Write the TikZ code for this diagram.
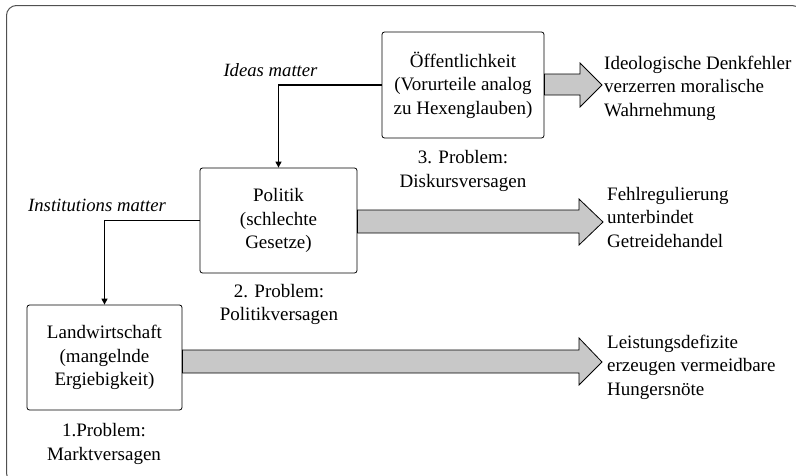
\documentclass[tikz,border=0pt]{standalone}
\usepackage{fontspec}
\setmainfont{Liberation Serif}
\usetikzlibrary{arrows.meta}
\definecolor{arrowgray}{RGB}{200,200,200}
\definecolor{framegray}{RGB}{80,80,80}
\begin{document}
\begin{tikzpicture}[x=1pt,y=-1pt,
  txt/.style={font=\fontsize{19}{23.5}\selectfont, inner sep=0pt, align=center},
  box/.style={txt, draw, rounded corners=2.5pt, line width=0.8pt},
  rtxt/.style={txt, anchor=west, align=left},
  itxt/.style={font=\fontsize{18.7}{22}\selectfont\itshape, inner sep=0pt},
  conn/.style={line width=1.3pt, -{Triangle[length=6pt,width=6pt]}},
  bigarr/.style={draw, line width=0.8pt, fill=arrowgray, line join=miter}
]
\useasboundingbox (0,0) rectangle (796,475);
\clip (0,0) rectangle (796,475);
\draw[framegray, line width=1pt, rounded corners=10pt] (6.5,5.5) rectangle (802,483);

% boxes
\node[box, minimum width=162pt, minimum height=106pt] (oef) at (463,85)
  {Öffentlichkeit\\(Vorurteile analog\\zu Hexenglauben)};
\node[box, minimum width=157pt, minimum height=105pt] (pol) at (278.5,220.5)
  {Politik\\(schlechte\\Gesetze)};
\node[box, minimum width=155pt, minimum height=105pt] (lw) at (104.5,357.5)
  {Landwirtschaft\\(mangelnde\\Ergiebigkeit)};

% labels under boxes
\node[txt] (p3) at (463,171) {3. Problem:\\Diskursversagen};
\node[txt] (p2) at (279,304.5) {2. Problem:\\Politikversagen};
\node[txt] (p1) at (104,444) {1.Problem:\\Marktversagen};

% italic labels
\node[itxt] (im) at (270.5,70) {Ideas matter};
\node[itxt] (inst) at (97,205) {Institutions matter};

% connectors
\draw[conn] (oef.west) -| (pol.north);
\draw[conn] (pol.west) -| (lw.north);

% right texts
\node[rtxt] (r1) at (604,88) {Ideologische Denkfehler\\verzerren moralische\\Wahrnehmung};
\node[rtxt] (r2) at (607,217) {Fehlregulierung\\unterbindet\\Getreidehandel};
\node[rtxt] (r3) at (607,367) {Leistungsdefizite\\erzeugen vermeidbare\\Hungersnöte};

% big arrows
\coordinate (t1) at (602,85);
\coordinate (t2) at (603,222);
\coordinate (t3) at (602,362);
\draw[bigarr] (oef.east |- 0,74) -- (580,74) -- (580,63) -- (t1) -- (580,107) -- (580,95) -- (oef.east |- 0,95) -- cycle;
\draw[bigarr] (pol.east |- 0,210) -- (579,210) -- (579,199) -- (t2) -- (579,245) -- (579,233) -- (pol.east |- 0,233) -- cycle;
\draw[bigarr] (lw.east |- 0,350) -- (579,350) -- (579,338) -- (t3) -- (579,385) -- (579,373) -- (lw.east |- 0,373) -- cycle;
\end{tikzpicture}
\end{document}
